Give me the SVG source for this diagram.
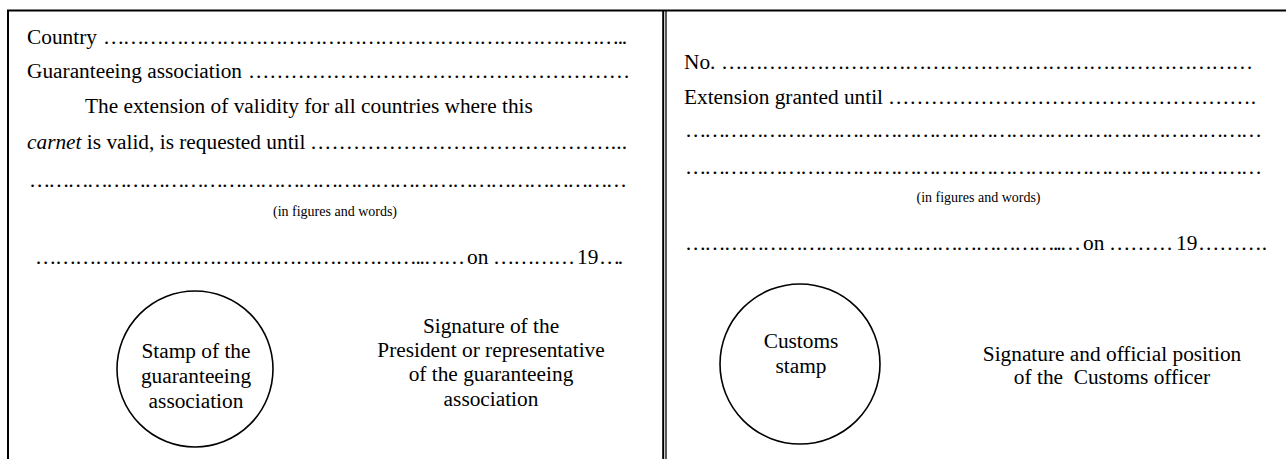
<svg xmlns="http://www.w3.org/2000/svg" width="1286" height="459" viewBox="0 0 1286 459">
  <style>
    .t { font-family: "Liberation Serif", "Times New Roman", serif; font-size: 21.33px; fill: #000; }
    .s { font-size: 14px; }
    .c { text-anchor: middle; }
    .i { font-style: italic; }
    .ln { stroke: #000; fill: none; }
  </style>
  <rect width="1286" height="459" fill="#fff"/>

  <g id="frame">
    <line class="ln" x1="7" y1="10.5" x2="1286" y2="10.5" stroke-width="2"/>
    <line class="ln" x1="8" y1="10" x2="8" y2="459" stroke-width="2"/>
    <line class="ln" x1="663.2" y1="10" x2="663.2" y2="459" stroke-width="2"/>
    <line class="ln" x1="666" y1="10" x2="666" y2="459" stroke-width="1.3"/>
  </g>

  <g id="left-request">
    <text class="t" x="27" y="44">Country</text>
    <text class="t" x="103" y="44" textLength="524" lengthAdjust="spacing">……………………………………………………………………..</text>
    <text class="t" x="27" y="78">Guaranteeing association</text>
    <text class="t" x="248" y="78" textLength="382" lengthAdjust="spacing">………………………………………………</text>
    <text class="t" x="85" y="113">The extension of validity for all countries where this</text>
    <text class="t" x="27" y="149"><tspan class="i">carnet</tspan> is valid, is requested until</text>
    <text class="t" x="310" y="149" textLength="317" lengthAdjust="spacing">……………………………………...</text>
    <text class="t" x="29" y="187" textLength="598" lengthAdjust="spacing">…………………………………………………………………………………</text>
    <text class="t s c" x="335" y="216">(in figures and words)</text>
    <text class="t" x="35" y="264" textLength="430" lengthAdjust="spacing">…………………………………………………..……</text>
    <text class="t" x="467" y="264">on</text>
    <text class="t" x="493" y="264" textLength="82" lengthAdjust="spacing">…………</text>
    <text class="t" x="577" y="264">19</text>
    <text class="t" x="599" y="264" textLength="24" lengthAdjust="spacing">….</text>
  </g>

  <g id="left-stamp">
    <ellipse class="ln" cx="195" cy="369" rx="78" ry="78" stroke-width="1.6"/>
    <text class="t c" x="196" y="358">Stamp of the</text>
    <text class="t c" x="196" y="383">guaranteeing</text>
    <text class="t c" x="196" y="408">association</text>
  </g>

  <g id="left-signature">
    <text class="t c" x="491" y="333">Signature of the</text>
    <text class="t c" x="491" y="357">President or representative</text>
    <text class="t c" x="491" y="381">of the guaranteeing</text>
    <text class="t c" x="491" y="406">association</text>
  </g>

  <g id="right-extension">
    <text class="t" x="684" y="68.5">No.</text>
    <text class="t" x="721" y="68.5" textLength="532" lengthAdjust="spacing">……………………………………………………………………</text>
    <text class="t" x="684" y="104">Extension granted until</text>
    <text class="t" x="888" y="104" textLength="368" lengthAdjust="spacing">…………………………………………….</text>
    <text class="t" x="685" y="137" textLength="577" lengthAdjust="spacing">………………………………………………………………………………</text>
    <text class="t" x="685" y="174" textLength="577" lengthAdjust="spacing">………………………………………………………………………………</text>
    <text class="t s c" x="978.5" y="202">(in figures and words)</text>
    <text class="t" x="685" y="250" textLength="396" lengthAdjust="spacing">…………………………………………………..…</text>
    <text class="t" x="1083" y="250">on</text>
    <text class="t" x="1109" y="250" textLength="64" lengthAdjust="spacing">………</text>
    <text class="t" x="1176" y="250">19</text>
    <text class="t" x="1198" y="250" textLength="69" lengthAdjust="spacing">……….</text>
  </g>

  <g id="right-stamp">
    <ellipse class="ln" cx="800" cy="364" rx="80" ry="80" stroke-width="1.6"/>
    <text class="t c" x="801" y="348">Customs</text>
    <text class="t c" x="801" y="373">stamp</text>
  </g>

  <g id="right-signature">
    <text class="t c" x="1112" y="361">Signature and official position</text>
    <text class="t c" x="1112" y="384">of the&#160; Customs officer</text>
  </g>

  <g id="connectors"/>
</svg>
